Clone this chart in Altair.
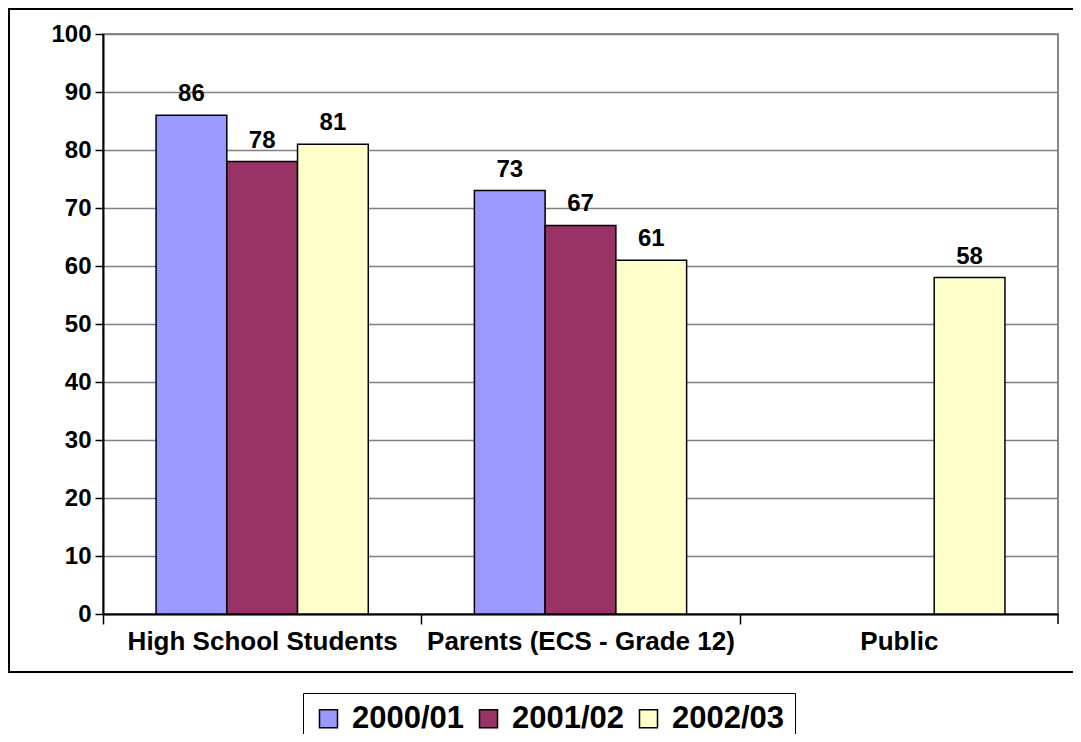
import altair as alt
import pandas as pd

groups = ["High School Students", "Parents (ECS - Grade 12)", "Public"]
years = ["2000/01", "2001/02", "2002/03"]
hs = [86, 78, 81]
parents = [73, 67, 61]
public = [None, None, 58]
colors = ["#9999FF", "#993366", "#FFFFCC"]
y_ticks = list(range(0, 101, 10))

rows = []
for g, vals in zip(groups, [hs, parents, public]):
    for yr, v in zip(years, vals):
        if v is not None:
            rows.append({"group": g, "year": yr, "value": v})
df = pd.DataFrame(rows)

W, H = 955, 580
FONT = "Liberation Sans"
STEP = W / 3

x_enc = alt.X(
    "group:N", sort=groups,
    scale=alt.Scale(domain=groups, paddingInner=0, paddingOuter=0),
    axis=alt.Axis(title=None, labelAngle=0, labelFont=FONT, labelFontSize=26,
                  labelFontWeight="bold", labelColor="black", labelLimit=0,
                  domainColor="black", domainWidth=2, tickColor="black",
                  tickWidth=1.5, tickSize=10, tickOffset=-STEP / 2,
                  labelOffset=STEP / 2, labelPadding=4, grid=False),
)
xo_enc = alt.XOffset("year:N", scale=alt.Scale(domain=years, paddingInner=0, paddingOuter=0.75))
y_enc = alt.Y(
    "value:Q", scale=alt.Scale(domain=[0, 100], nice=False),
    axis=alt.Axis(title=None, values=y_ticks, labelFont=FONT, labelFontSize=24,
                  labelFontWeight="bold", labelColor="black", domainColor="black",
                  domainWidth=2, tickColor="black", tickSize=8, tickWidth=1.5,
                  gridColor="#808080", gridWidth=1.5, labelPadding=4),
)

base = alt.Chart(df)
bars = base.mark_bar(stroke="black", strokeWidth=1.5).encode(
    x=x_enc, xOffset=xo_enc, y=y_enc,
    color=alt.Color("year:N", scale=alt.Scale(domain=years, range=colors),
                    legend=alt.Legend(title=None, orient="none", legendX=200, legendY=659,
                                      direction="horizontal", symbolType="square",
                                      symbolSize=324, symbolStrokeColor="black",
                                      symbolStrokeWidth=1.5, labelFont=FONT,
                                      labelFontSize=31, labelFontWeight="bold",
                                      labelColor="black", labelLimit=0,
                                      strokeColor="black",
                                      padding=10, columnPadding=8, labelOffset=8)),
)
labels = base.mark_text(dy=-14, baseline="alphabetic", font=FONT, fontSize=24,
                        fontWeight="bold", color="black").encode(
    x=x_enc, xOffset=xo_enc, y=y_enc, text=alt.Text("value:Q"))

one = alt.Chart(pd.DataFrame({"k": [0]}))
frame = one.mark_rect(fill="transparent", stroke="black", strokeWidth=2).encode(
    x=alt.value(-94), x2=alt.value(985), y=alt.value(-25), y2=alt.value(638))
last_tick = one.mark_rule(color="black", strokeWidth=1.5).encode(
    x=alt.value(W), y=alt.value(H), y2=alt.value(H + 10))

chart = alt.layer(frame, bars, labels, last_tick).properties(
    width=W, height=H,
    autosize=alt.AutoSizeParams(type="none"),
    padding={"left": 95, "top": 26, "right": 15, "bottom": 120},
    background="white",
).configure_view(stroke="#606060", strokeWidth=1.5)

chart.save("out.html", embed_options={"renderer": "svg", "actions": False})
